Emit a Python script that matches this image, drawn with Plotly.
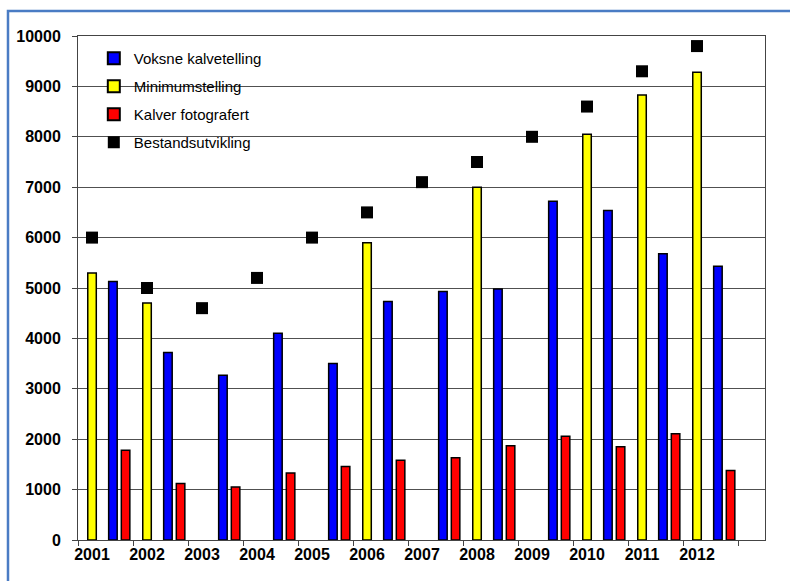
import plotly.graph_objects as go

years = [2001, 2002, 2003, 2004, 2005, 2006, 2007, 2008, 2009, 2010, 2011, 2012]
voksne = [5130, 3720, 3270, 4100, 3500, 4730, 4930, 4980, 6720, 6540, 5680, 5430]
minimum = [5300, 4700, None, None, None, 5900, None, 7000, None, 8050, 8830, 9280]
kalver = [1780, 1120, 1050, 1330, 1460, 1580, 1630, 1870, 2060, 1850, 2110, 1380]
bestand = [6000, 5000, 4600, 5200, 6000, 6500, 7100, 7500, 8000, 8600, 9300, 9800]
tick_labels = [str(y) for y in years]

W = 0.155
line = dict(color="black", width=1.5)

fig = go.Figure()
fig.add_trace(go.Bar(x=years, y=voksne, name="Voksne kalvetelling",
                     marker=dict(color="#0000ff", line=line),
                     width=W, offset=0.38 - W / 2, legendgroup="a"))
fig.add_trace(go.Bar(x=years, y=minimum, name="Minimumstelling",
                     marker=dict(color="#ffff00", line=line),
                     width=W, offset=-W / 2, legendgroup="b"))
fig.add_trace(go.Bar(x=years, y=kalver, name="Kalver fotografert",
                     marker=dict(color="#ff0000", line=line),
                     width=W, offset=0.61 - W / 2, legendgroup="c"))
fig.add_trace(go.Scatter(x=years, y=bestand, name="Bestandsutvikling", mode="markers",
                         marker=dict(symbol="square", size=12, color="black"),
                         legendgroup="d"))

axis_col = "#444444"
FONT = "Liberation Sans, Arial, sans-serif"
fig.update_layout(
    width=790, height=581,
    margin=dict(l=78, r=25, t=36, b=41),
    paper_bgcolor="white", plot_bgcolor="white",
    barmode="overlay",
    font=dict(family=FONT, color="black"),
    showlegend=True,
    legend=dict(x=0.023, y=0.988, xanchor="left", yanchor="top",
                bgcolor="rgba(255,255,255,0)", borderwidth=0,
                font=dict(size=15, color="black"),
                traceorder="grouped", tracegroupgap=5.5,
                itemsizing="constant"),
    xaxis=dict(range=[2000.745, 2013.236], tickmode="array", tickvals=years,
               ticktext=tick_labels, ticks="", showgrid=False, zeroline=False,
               showline=True, linecolor=axis_col, linewidth=1, mirror=True,
               tickfont=dict(size=16, family=FONT),
               minor=dict(tick0=2000.745, dtick=1, ticks="outside", ticklen=5,
                          tickcolor=axis_col, showgrid=False)),
    yaxis=dict(range=[0, 10000], tickmode="linear", tick0=0, dtick=1000,
               tickformat="d",
               ticks="outside", ticklen=5, tickcolor=axis_col,
               showgrid=True, gridcolor="#505050", gridwidth=1,
               zeroline=False, showline=True, linecolor=axis_col, linewidth=1,
               mirror=True,
               tickfont=dict(size=16, family=FONT),
               ticklabelstandoff=8),
    shapes=[
        dict(type="rect", xref="paper", yref="paper", layer="between",
             x0=0.0175, x1=0.316, y0=0.754, y1=0.982,
             fillcolor="white", line=dict(width=0)),
        dict(type="path", xref="paper", yref="paper",
             path="M -0.1019,-0.2 L -0.1019,1.0496 L 1.2,1.0496",
             line=dict(color="#4a7cc4", width=2.5)),
    ],
)
fig.update_xaxes(tickfont_weight="bold")
fig.update_yaxes(tickfont_weight="bold")

fig.write_html("out.html")
